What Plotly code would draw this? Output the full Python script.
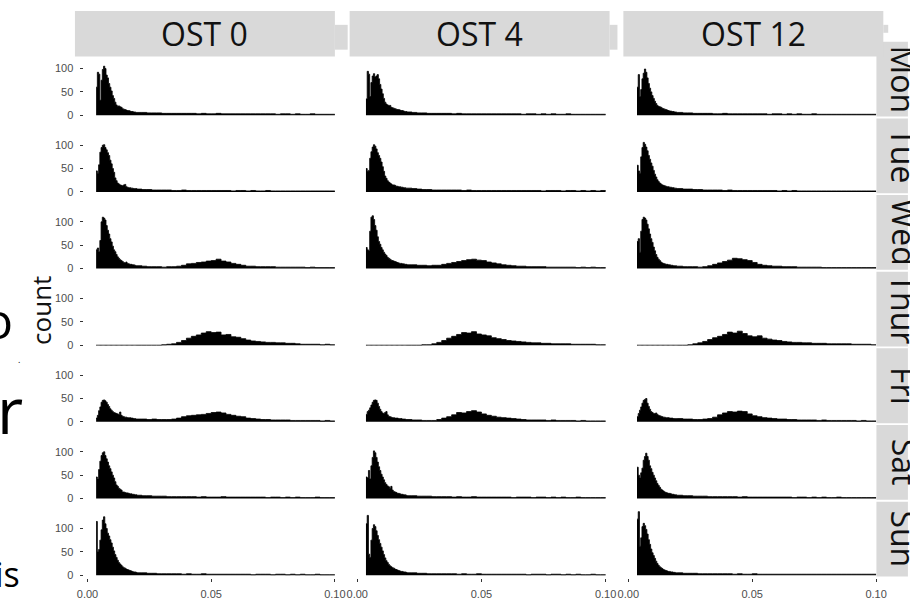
import plotly.graph_objects as go

# ---------------- data ----------------
DAYS = ["Mon", "Tue", "Wed", "Thur", "Fri", "Sat", "Sun"]
OSTS = ["OST 0", "OST 4", "OST 12"]
X_TICKS = [0.0, 0.05, 0.10]
X_TICK_LABELS = ["0.00", "0.05", "0.10"]
Y_TICKS = [0, 50, 100]
Y_TICK_LABELS = ["0", "50", "100"]

# histogram bins: 33 fine bins (0.0035..0.020), then 40 coarse bins (0.020..0.100)
FINE_START, FINE_WIDTH, N_FINE = 0.0035, 0.0005, 33
COARSE_START, COARSE_WIDTH, N_COARSE = 0.020, 0.002, 40

# counts per bin (first 33 = fine bins, last 40 = coarse bins)
ost0_mon = [60, 92, 88, 32, 75, 98, 105, 100, 86, 80, 68, 60, 52, 42, 36, 28, 22, 19, 20, 18, 17, 14, 13, 12, 11, 10, 10, 9, 8, 8, 7, 7, 6,
            6, 6, 5, 5, 5, 4, 4, 4, 4, 4, 4, 4, 3, 4, 3, 3, 4, 3, 3, 3, 3, 3, 3, 3, 3, 3, 3, 3, 2, 3, 3, 2, 3, 2, 2, 3, 2, 2, 2, 2]
ost0_tue = [45, 40, 58, 85, 95, 100, 101, 95, 90, 84, 78, 68, 60, 50, 42, 30, 24, 19, 17, 15, 14, 13, 15, 16, 11, 10, 9, 9, 8, 8, 7, 7, 7,
            6, 5, 5, 4, 4, 4, 4, 3, 3, 4, 3, 3, 3, 3, 3, 3, 3, 3, 3, 2, 3, 3, 2, 3, 2, 2, 3, 2, 2, 2, 2, 2, 2, 2, 2, 2, 2, 2, 2, 2]
ost0_wed = [40, 44, 36, 60, 100, 110, 108, 104, 92, 82, 74, 64, 57, 48, 40, 36, 30, 25, 22, 19, 17, 15, 13, 12, 14, 11, 10, 9, 9, 8, 8, 7, 6,
            6, 5, 4, 4, 4, 3, 4, 4, 5, 7, 10, 11, 13, 14, 16, 17, 20, 16, 14, 11, 9, 7, 5, 5, 4, 4, 4, 4, 3, 3, 3, 3, 3, 3, 2, 3, 2, 2, 2, 2]
ost0_thu = [0] * 33 + [0, 0, 0, 0, 0, 1, 2, 3, 6, 10, 15, 19, 22, 26, 29, 27, 28, 22, 23, 18,
                       17, 14, 11, 9, 8, 7, 6, 6, 5, 5, 4, 4, 3, 2, 2, 2, 2, 1, 2, 1]
ost0_fri = [8, 14, 24, 32, 42, 46, 47, 45, 42, 37, 33, 28, 25, 22, 20, 19, 18, 17, 16, 21, 14, 12, 11, 10, 10, 9, 9, 9, 8, 8, 7, 7, 6,
            6, 6, 5, 6, 5, 5, 5, 6, 8, 11, 13, 14, 15, 16, 18, 20, 21, 19, 16, 14, 12, 11, 8, 7, 6, 5, 5, 4, 4, 4, 4, 3, 3, 3, 3, 3, 3, 2, 3, 2]
ost0_sat = [46, 42, 62, 80, 92, 98, 100, 92, 85, 78, 70, 64, 57, 50, 44, 36, 29, 26, 22, 20, 18, 14, 14, 13, 12, 12, 11, 10, 10, 9, 9, 8, 8,
            7, 6, 6, 5, 5, 5, 4, 4, 4, 4, 4, 4, 3, 4, 3, 3, 3, 4, 3, 3, 3, 3, 3, 3, 3, 3, 2, 3, 3, 2, 3, 2, 3, 2, 2, 2, 3, 2, 2, 2]
ost0_sun = [115, 50, 55, 75, 97, 118, 125, 110, 100, 90, 84, 76, 69, 60, 52, 44, 38, 32, 27, 24, 21, 18, 16, 15, 13, 12, 11, 10, 9, 8, 7, 7, 6,
            5, 5, 4, 4, 3, 3, 3, 3, 3, 2, 3, 2, 2, 3, 2, 2, 2, 2, 2, 2, 2, 2, 2, 1, 2, 2, 2, 1, 2, 2, 1, 2, 1, 2, 1, 1, 2, 1, 1, 1]

ost4_mon = [35, 94, 88, 40, 70, 84, 89, 82, 84, 87, 78, 66, 56, 46, 36, 28, 24, 22, 21, 21, 17, 16, 15, 14, 13, 12, 12, 11, 10, 10, 9, 8, 8,
            7, 6, 5, 5, 4, 4, 4, 4, 4, 3, 4, 3, 3, 3, 3, 3, 3, 3, 3, 3, 3, 3, 3, 2, 3, 3, 2, 3, 2, 3, 2, 2, 3, 2, 2, 2, 2, 2, 2, 2]
ost4_tue = [50, 44, 46, 72, 86, 96, 101, 98, 92, 84, 78, 72, 64, 54, 44, 34, 29, 24, 21, 19, 17, 15, 15, 14, 12, 12, 11, 11, 10, 10, 9, 9, 8,
            8, 7, 6, 5, 5, 4, 4, 4, 4, 4, 4, 3, 4, 3, 3, 3, 3, 3, 3, 3, 3, 3, 3, 3, 3, 3, 3, 2, 3, 3, 3, 2, 3, 3, 2, 3, 2, 3, 2, 3]
ost4_wed = [45, 40, 38, 80, 110, 113, 105, 92, 82, 68, 58, 52, 45, 40, 35, 31, 28, 24, 22, 20, 18, 17, 16, 15, 14, 13, 12, 11, 11, 10, 10, 9, 9,
            8, 8, 7, 7, 6, 7, 7, 9, 11, 13, 15, 17, 19, 20, 18, 17, 14, 12, 10, 8, 7, 6, 5, 5, 4, 4, 4, 4, 3, 3, 3, 3, 3, 3, 2, 3, 2, 3, 2, 2]
ost4_thu = [0] * 33 + [0, 0, 0, 1, 1, 3, 6, 10, 15, 19, 23, 27, 26, 29, 24, 22, 20, 16, 14, 12,
                       10, 9, 8, 7, 6, 5, 5, 4, 4, 3, 3, 3, 3, 2, 2, 2, 2, 2, 1, 1]
ost4_fri = [16, 22, 25, 30, 36, 42, 46, 47, 46, 40, 33, 27, 22, 19, 18, 20, 22, 15, 12, 11, 10, 9, 9, 8, 8, 8, 7, 7, 7, 6, 6, 6, 5,
            5, 4, 4, 3, 3, 3, 5, 8, 11, 15, 20, 19, 22, 24, 21, 17, 14, 12, 10, 9, 8, 7, 6, 5, 4, 4, 4, 4, 3, 4, 3, 3, 3, 3, 2, 3, 2, 2, 2, 2]
ost4_sat = [46, 44, 60, 42, 70, 88, 102, 98, 88, 78, 68, 60, 52, 46, 40, 34, 30, 27, 25, 22, 26, 18, 15, 14, 13, 11, 11, 10, 9, 9, 8, 8, 7,
            6, 6, 5, 5, 5, 4, 4, 4, 4, 3, 4, 3, 3, 4, 3, 3, 3, 3, 3, 3, 3, 2, 3, 3, 3, 2, 3, 3, 2, 3, 2, 3, 2, 2, 3, 2, 2, 2, 2, 2]
ost4_sun = [110, 128, 45, 38, 75, 100, 108, 104, 95, 85, 76, 68, 60, 52, 44, 37, 31, 27, 23, 20, 18, 16, 15, 13, 12, 11, 10, 9, 8, 8, 7, 7, 6,
            5, 5, 4, 4, 3, 3, 3, 3, 3, 3, 2, 3, 2, 2, 3, 2, 2, 2, 2, 2, 2, 2, 2, 2, 1, 2, 2, 2, 1, 2, 2, 1, 2, 1, 2, 1, 1, 2, 1, 1]

ost12_mon = [60, 87, 40, 55, 78, 90, 99, 92, 80, 68, 58, 50, 42, 36, 30, 25, 21, 19, 18, 17, 15, 14, 13, 12, 11, 10, 9, 9, 8, 8, 7, 7, 6,
             6, 5, 5, 4, 4, 4, 4, 3, 3, 4, 3, 3, 3, 3, 3, 3, 3, 3, 2, 3, 3, 2, 3, 2, 3, 2, 2, 3, 2, 2, 2, 2, 2, 2, 2, 2, 2, 2, 2, 2]
ost12_tue = [57, 45, 40, 75, 95, 106, 102, 96, 88, 78, 70, 62, 55, 46, 38, 32, 26, 22, 19, 17, 15, 14, 13, 12, 11, 11, 10, 10, 9, 9, 8, 8, 7,
             7, 6, 6, 5, 5, 4, 4, 4, 4, 3, 4, 3, 3, 3, 3, 3, 3, 3, 3, 3, 2, 3, 2, 3, 2, 2, 2, 2, 2, 2, 2, 2, 2, 2, 2, 2, 2, 2, 2, 2]
ost12_wed = [58, 64, 35, 80, 105, 110, 108, 104, 95, 85, 74, 64, 56, 46, 38, 30, 24, 20, 17, 14, 12, 11, 10, 9, 9, 8, 8, 7, 7, 6, 6, 6, 5,
             5, 4, 4, 4, 3, 4, 6, 9, 12, 15, 18, 22, 21, 19, 17, 13, 9, 7, 6, 5, 5, 4, 4, 4, 3, 3, 3, 3, 3, 2, 2, 2, 2, 2, 2, 2, 2, 2, 2, 2]
ost12_thu = [0] * 33 + [0, 0, 1, 3, 5, 8, 12, 16, 19, 23, 28, 26, 30, 25, 20, 18, 20, 15, 13, 11,
                        10, 8, 7, 6, 6, 5, 5, 4, 4, 4, 3, 3, 3, 3, 3, 2, 2, 2, 2, 1]
ost12_fri = [11, 18, 25, 32, 40, 46, 48, 50, 40, 33, 27, 22, 20, 18, 18, 19, 16, 14, 13, 12, 11, 10, 10, 9, 9, 9, 8, 8, 8, 7, 7, 7, 7,
             7, 6, 6, 5, 5, 6, 7, 10, 15, 19, 22, 21, 23, 22, 17, 13, 11, 9, 8, 7, 6, 6, 5, 5, 4, 4, 4, 4, 3, 4, 3, 3, 3, 3, 3, 3, 2, 3, 2, 2]
ost12_sat = [67, 50, 44, 55, 65, 82, 90, 97, 90, 82, 70, 64, 56, 50, 44, 38, 32, 28, 24, 20, 18, 16, 14, 13, 12, 11, 11, 10, 9, 9, 8, 8, 7,
             7, 6, 6, 5, 5, 5, 4, 4, 4, 4, 4, 4, 3, 4, 3, 3, 3, 3, 3, 3, 3, 3, 3, 2, 3, 3, 2, 3, 2, 3, 2, 2, 3, 2, 2, 2, 2, 2, 2, 2]
ost12_sun = [120, 136, 62, 80, 104, 111, 106, 98, 88, 76, 66, 56, 48, 42, 36, 30, 25, 21, 18, 16, 14, 12, 11, 10, 9, 8, 8, 7, 7, 6, 6, 5, 5,
             5, 4, 4, 4, 3, 3, 3, 3, 3, 3, 3, 2, 3, 2, 2, 3, 2, 2, 2, 2, 2, 2, 2, 2, 2, 2, 2, 2, 2, 2, 2, 2, 2, 2, 2, 2, 2, 2, 2, 2]

COUNTS = {
    "OST 0": [ost0_mon, ost0_tue, ost0_wed, ost0_thu, ost0_fri, ost0_sat, ost0_sun],
    "OST 4": [ost4_mon, ost4_tue, ost4_wed, ost4_thu, ost4_fri, ost4_sat, ost4_sun],
    "OST 12": [ost12_mon, ost12_tue, ost12_wed, ost12_thu, ost12_fri, ost12_sat, ost12_sun],
}

# ---------------- bins ----------------
edges = [round(FINE_START + i * FINE_WIDTH, 6) for i in range(N_FINE)]
edges += [round(COARSE_START + j * COARSE_WIDTH, 6) for j in range(N_COARSE + 1)]
NB = N_FINE + N_COARSE

# ---------------- layout geometry (pixels) ----------------
W, H = 910, 600
def fx(p):
    return p / W
def fy(p):
    return 1 - p / H

X_RANGE = [-0.0016, 0.1016]
Y_RANGE = [-7, 148]
PX_PER_COUNT = 0.47
COL_PX = [(77.7, 337.0), (351.7, 612.0), (627.0, 886.7)]
ZERO0, ROW_STEP = 116.0, 77.17

TICK_FONT = dict(family="Liberation Sans, Arial, sans-serif", size=11, color="#4D4D4D")
STRIP_FONT = dict(family="Open Sans, sans-serif", size=32, color="#111111")

fig = go.Figure()
layout = dict(
    width=W, height=H, margin=dict(l=0, r=0, t=0, b=0),
    paper_bgcolor="white", plot_bgcolor="white", showlegend=False,
)

for c, ost in enumerate(OSTS):
    for r, day in enumerate(DAYS):
        idx = r * 3 + c + 1
        counts = COUNTS[ost][r]
        assert len(counts) == NB, (ost, day, len(counts))
        sfx = "" if idx == 1 else str(idx)
        fig.add_trace(go.Scatter(
            x=edges, y=list(counts) + [counts[-1]],
            mode="lines", line=dict(shape="hv", color="black", width=0.8),
            fill="tozeroy", fillcolor="black", hoverinfo="skip",
            xaxis="x" + sfx, yaxis="y" + sfx,
        ))
        zero = ZERO0 + ROW_STEP * r
        bot = zero - Y_RANGE[0] * PX_PER_COUNT
        top = zero - Y_RANGE[1] * PX_PER_COUNT
        x0, x1 = COL_PX[c]
        layout["xaxis" + sfx] = dict(
            domain=[fx(x0), fx(x1)], range=X_RANGE, anchor="y" + sfx,
            showgrid=False, zeroline=False, showline=False,
            tickvals=X_TICKS, ticktext=X_TICK_LABELS,
            ticks="outside" if r == 6 else "", ticklen=3, tickwidth=1, tickcolor="#333333",
            showticklabels=(r == 6), tickfont=TICK_FONT, ticklabelstandoff=2,
        )
        layout["yaxis" + sfx] = dict(
            domain=[fy(bot), fy(top)], range=Y_RANGE, anchor="x" + sfx,
            showgrid=False, zeroline=False, showline=False,
            tickvals=Y_TICKS, ticktext=Y_TICK_LABELS,
            ticks="outside" if c == 0 else "", ticklen=3, tickwidth=1, tickcolor="#333333",
            showticklabels=(c == 0), tickfont=TICK_FONT, ticklabelstandoff=4,
        )

GRAY = "#D9D9D9"
shapes = []
annotations = []

def rect(x0, y0, x1, y1):
    shapes.append(dict(type="rect", xref="paper", yref="paper",
                       x0=fx(x0), x1=fx(x1), y0=fy(y1), y1=fy(y0),
                       fillcolor=GRAY, line=dict(width=0), layer="above"))

# right-hand row strips
for r, day in enumerate(DAYS):
    zero = ZERO0 + ROW_STEP * r
    rect(883, zero - 74, 915, zero + 1.3)
    annotations.append(dict(text=day, xref="paper", yref="paper",
                            x=fx(911), y=fy(zero - 36), xanchor="center", yanchor="middle",
                            textangle=90, showarrow=False, font=STRIP_FONT))

# top column strips
STRIP_X = [(69, 333), (348, 612), (626, 890)]
for (a, b) in [(333, 346), (612, 620)]:
    rect(a, 25, b, 50)
rect(890, 25, 895, 33)
for (a, b), ost in zip(STRIP_X, OSTS):
    rect(a, 11, b, 57)
    annotations.append(dict(text=ost, xref="paper", yref="paper",
                            x=fx((a + b) / 2), y=fy(34), xanchor="center", yanchor="middle",
                            showarrow=False, font=STRIP_FONT))

# y-axis title
annotations.append(dict(text="count", xref="paper", yref="paper", x=fx(34.5), y=fy(312),
                        xanchor="center", yanchor="middle", textangle=-90, showarrow=False,
                        font=dict(family="Open Sans, sans-serif", size=26, color="#111111")))

# fragments of background text clipped at the left edge
BG_FONT = "Open Sans, sans-serif"
annotations.append(dict(text="o", xref="paper", yref="paper", x=fx(-9), y=fy(322),
                        xanchor="center", yanchor="middle", showarrow=False,
                        font=dict(family=BG_FONT, size=50, color="black")))
annotations.append(dict(text=".", xref="paper", yref="paper", x=fx(12), y=fy(362),
                        xanchor="center", yanchor="middle", showarrow=False,
                        font=dict(family=BG_FONT, size=9, color="black")))
annotations.append(dict(text="r", xref="paper", yref="paper", x=fx(3), y=fy(412),
                        xanchor="center", yanchor="middle", showarrow=False,
                        font=dict(family=BG_FONT, size=64, color="black")))
annotations.append(dict(text="is", xref="paper", yref="paper", x=fx(0), y=fy(578),
                        xanchor="center", yanchor="middle", showarrow=False,
                        font=dict(family=BG_FONT, size=34, color="black")))

layout["shapes"] = shapes
layout["annotations"] = annotations
fig.update_layout(**layout)
fig.write_html("out.html", config={"displayModeBar": False})
